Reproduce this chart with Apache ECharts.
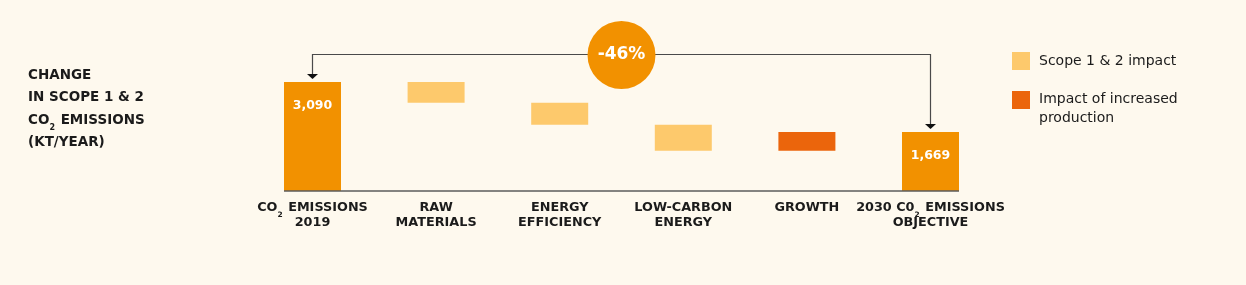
<!DOCTYPE html>
<html>
<head>
<meta charset="utf-8">
<script src="https://cdn.jsdelivr.net/npm/echarts@6/dist/echarts.min.js"></script>
<style>
html,body{margin:0;padding:0;background:#FEF9EE;}
#c{width:1246px;height:285px;}
</style>
</head>
<body>
<div id="c"></div>
<script>
// ---- data ----
const categories = ['CO2 EMISSIONS 2019', 'RAW MATERIALS', 'ENERGY EFFICIENCY', 'LOW-CARBON ENERGY', 'GROWTH', '2030 CO2 EMISSIONS OBJECTIVE'];
const tickLabels = [
  ['CO₂ EMISSIONS', '2019'],
  ['RAW', 'MATERIALS'],
  ['ENERGY', 'EFFICIENCY'],
  ['LOW-CARBON', 'ENERGY'],
  ['GROWTH'],
  ['2030 C0₂ EMISSIONS', 'OBJECTIVE']
];
const totals = [3090, null, null, null, null, 1669];
const scopeImpact = [null, -587, -623, -740, null, null];
const productionImpact = [null, null, null, null, 529, null];
const titleLines = ['CHANGE', 'IN SCOPE 1 & 2', 'CO₂ EMISSIONS', '(KT/YEAR)'];
const legendNames = ['Scope 1 & 2 impact', 'Impact of increased\nproduction'];

// ---- colours ----
const C_MAIN = '#F29100';
const C_LIGHT = '#FDC96C';
const C_DARK = '#EB650C';
const FONT = '"DejaVu Sans", sans-serif';

// ---- build waterfall ----
const base = [], totalVals = [], lightVals = [], darkVals = [];
let running = 0;
for (let i = 0; i < categories.length; i++) {
  if (totals[i] != null) {
    base.push(0); totalVals.push(totals[i]); lightVals.push('-'); darkVals.push('-');
    running = totals[i];
  } else {
    const d = scopeImpact[i] != null ? scopeImpact[i] : productionImpact[i];
    const lo = Math.min(running, running + d);
    base.push(lo);
    totalVals.push('-');
    if (scopeImpact[i] != null) { lightVals.push(Math.abs(d)); darkVals.push('-'); }
    else { darkVals.push(Math.abs(d)); lightVals.push('-'); }
    running += d;
  }
}

function richify(s, cls) {
  const parts = s.split('₂');
  return parts.map(p => p ? '{' + cls + '|' + p + '}' : '').join('{' + cls + 's|2}');
}

const chart = echarts.init(document.getElementById('c'), null, {renderer: 'canvas'});
const option = {
  backgroundColor: '#FEF9EE',
  animation: false,
  title: {
    left: 28, top: 64, padding: 0,
    text: titleLines.map(l => richify(l, 't')).join('\n'),
    textStyle: {
      rich: {
        t: {fontFamily: FONT, fontWeight: 'bold', fontSize: 13.5, color: '#1b1b1b', lineHeight: 22.5},
        ts: {fontFamily: FONT, fontWeight: 'bold', fontSize: 8, color: '#1b1b1b', lineHeight: 22.5, verticalAlign: 'bottom', padding: [0, 1, 0, 0]}
      }
    }
  },
  grid: {left: 250.7, right: 253.7, top: 67.5, bottom: 94},
  xAxis: {
    type: 'category',
    data: categories,
    axisLine: {show: false},
    axisTick: {show: false},
    axisLabel: {
      interval: 0, margin: 9,
      formatter: (v, i) => tickLabels[i].map(l => richify(l, 'x')).join('\n'),
      rich: {
        x: {fontFamily: FONT, fontWeight: 'bold', fontSize: 12.8, color: '#1b1b1b', lineHeight: 15, align: 'center'},
        xs: {fontFamily: FONT, fontWeight: 'bold', fontSize: 7.5, color: '#1b1b1b', lineHeight: 15, verticalAlign: 'bottom', padding: [0, 1, -4, 0]}
      }
    }
  },
  yAxis: {type: 'value', min: 0, max: 3500, show: false, splitLine: {show: false}},
  series: [
    {name: 'base', type: 'bar', stack: 'w', barWidth: 57, data: base, itemStyle: {color: 'transparent'}, silent: true},
    {name: 'Total', type: 'bar', stack: 'w', barWidth: 57, data: totalVals, itemStyle: {color: C_MAIN},
      label: {show: true, position: 'insideTop', distance: 17, color: '#fff', fontFamily: FONT, fontWeight: 'bold', fontSize: 12.5,
        formatter: p => p.value.toLocaleString('en-US')}},
    {name: legendNames[0], type: 'bar', stack: 'w', barWidth: 57, data: lightVals, itemStyle: {color: C_LIGHT}},
    {name: legendNames[1], type: 'bar', stack: 'w', barWidth: 57, data: darkVals, itemStyle: {color: C_DARK}}
  ]
};
chart.setOption(option);

// ---- annotations tied to axis positions ----
const first = 0, last = categories.length - 1;
const p0 = chart.convertToPixel({seriesIndex: 1}, [first, totals[first]]);
const p5 = chart.convertToPixel({seriesIndex: 1}, [last, totals[last]]);
const yb = chart.convertToPixel({seriesIndex: 1}, [first, 0])[1];
const pm2 = chart.convertToPixel({seriesIndex: 1}, [2, 0])[0];
const pm3 = chart.convertToPixel({seriesIndex: 1}, [3, 0])[0];
const cx = (pm2 + pm3) / 2;
const lineY = 54.5;
const pct = Math.round((totals[last] - totals[first]) / totals[first] * 100);

const graphics = [
  {type: 'line', shape: {x1: p0[0] - 28.5, y1: yb, x2: p5[0] + 28.5, y2: yb}, style: {stroke: '#5b5b5b', lineWidth: 1.5}, z: 10},
  {type: 'polyline', shape: {points: [[p0[0], p0[1] - 7], [p0[0], lineY], [p5[0], lineY], [p5[0], p5[1] - 7]]}, style: {stroke: '#4a4a4a', lineWidth: 1.2, fill: null}},
  {type: 'polygon', shape: {points: [[p0[0] - 5.5, p0[1] - 8], [p0[0] + 5.5, p0[1] - 8], [p0[0], p0[1] - 3]]}, style: {fill: '#111'}},
  {type: 'polygon', shape: {points: [[p5[0] - 5.5, p5[1] - 8], [p5[0] + 5.5, p5[1] - 8], [p5[0], p5[1] - 3]]}, style: {fill: '#111'}},
  {type: 'circle', shape: {cx: cx, cy: lineY + 0.5, r: 34}, style: {fill: C_MAIN}, z: 20},
  {type: 'text', x: cx, y: lineY + 0.5, style: {text: pct + '%', fill: '#fff', font: 'bold 17px ' + FONT, textAlign: 'center', textVerticalAlign: 'middle'}, z: 21},
  // legend
  {type: 'rect', shape: {x: 1012, y: 52, width: 18, height: 18}, style: {fill: C_LIGHT}},
  {type: 'text', x: 1039, y: 61, style: {text: legendNames[0], fill: '#1b1b1b', font: '14px ' + FONT, textVerticalAlign: 'middle'}},
  {type: 'rect', shape: {x: 1012, y: 91, width: 18, height: 18}, style: {fill: C_DARK}},
  {type: 'text', x: 1039, y: 89.5, style: {text: legendNames[1], fill: '#1b1b1b', font: '14px ' + FONT, lineHeight: 19.5, textVerticalAlign: 'top'}}
];
chart.setOption({graphic: graphics});
</script>
</body>
</html>
